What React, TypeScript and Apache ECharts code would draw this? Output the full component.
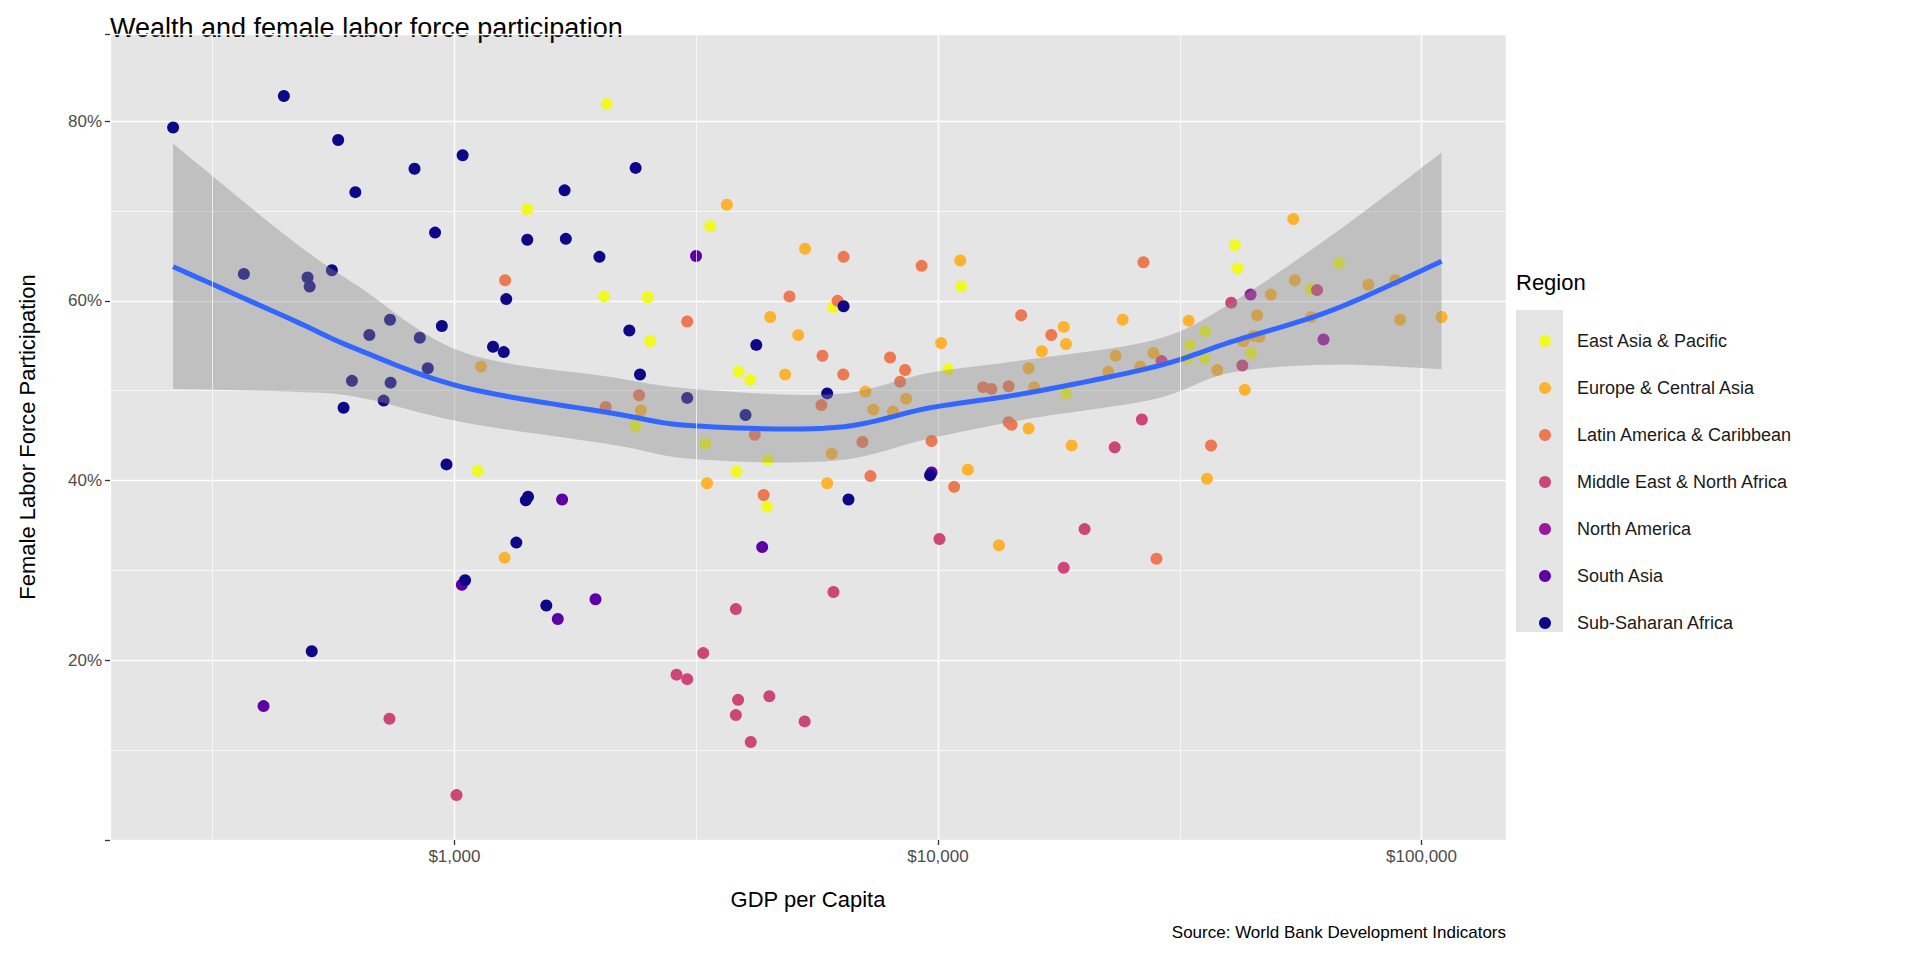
import React, { useEffect, useRef } from 'react';
import * as echarts from 'echarts';

const regions = [
  'East Asia & Pacific',
  'Europe & Central Asia',
  'Latin America & Caribbean',
  'Middle East & North Africa',
  'North America',
  'South Asia',
  'Sub-Saharan Africa',
];
const regionColors = ['#F0F921', '#FDB32F', '#ED7953', '#CC4678', '#9C179E', '#5D01A6', '#0D0887'];

// [GDP per capita, female labor force participation %]
const eastAsia = [
  [2065, 81.9], [1415, 70.2], [3380, 68.3], [2040, 60.5], [2510, 60.4], [2540, 55.5], [6080, 59.3],
  [11160, 61.6], [3870, 52.1], [4090, 51.2], [2370, 46.1], [3300, 44.1], [4450, 42.3], [1118, 41.1],
  [3830, 41.0], [4430, 37.1], [10500, 52.4], [18400, 49.7], [35700, 56.6], [33200, 55.1], [32700, 53.6],
  [35600, 53.6], [41100, 66.2], [41700, 63.6], [67500, 64.2], [59000, 61.3], [44400, 54.2],
];
const europe = [
  [3660, 70.7], [5310, 65.8], [4500, 58.2], [5140, 56.2], [1135, 52.7], [4830, 51.8], [2430, 47.8],
  [6030, 43.0], [3330, 39.7], [5900, 39.7], [1270, 31.4], [11120, 64.5], [18200, 57.1], [18400, 55.2],
  [16400, 54.4], [24100, 57.9], [33000, 57.8], [27900, 54.2], [23300, 53.9], [22500, 52.1], [26200, 52.7],
  [37800, 52.3], [15400, 52.5], [15800, 50.4], [10150, 55.3], [7080, 49.9], [7350, 47.9], [8070, 47.7],
  [8590, 49.1], [15400, 45.8], [18900, 43.9], [11530, 41.2], [36000, 40.2], [13370, 32.8], [54300, 69.1],
  [54700, 62.3], [77600, 61.8], [88300, 62.3], [48800, 60.7], [45700, 58.4], [59100, 58.2], [90300, 57.9],
  [110000, 58.2], [44900, 56.1], [46200, 56.0], [42800, 55.5], [43100, 50.1],
];
const latinAmerica = [
  [1273, 62.3], [3030, 57.7], [4930, 60.5], [5770, 53.9], [2410, 49.5], [2055, 48.2], [4180, 45.1],
  [5740, 48.4], [4360, 38.4], [6380, 64.9], [9250, 63.9], [26600, 64.3], [6200, 60.0], [14860, 58.4],
  [17150, 56.2], [14000, 50.5], [12900, 50.2], [12400, 50.4], [7960, 53.7], [8550, 52.3], [8350, 51.0],
  [6370, 51.8], [14000, 46.5], [14200, 46.2], [9700, 44.4], [6980, 44.3], [36700, 43.9], [7250, 40.5],
  [10800, 39.3], [28300, 31.3],
];
const middleEast = [
  [734, 13.5], [1010, 5.0], [3820, 25.7], [6080, 27.6], [3270, 20.8], [2880, 18.4], [3030, 17.9],
  [3860, 15.6], [4480, 16.0], [3820, 13.9], [5300, 13.2], [4100, 10.9], [10070, 33.5], [20100, 34.6],
  [18200, 30.3], [23200, 43.7], [26400, 46.8], [29000, 53.3], [40400, 59.8], [60800, 61.2], [42600, 52.8],
];
const northAmerica = [[44300, 60.7], [62700, 55.7]];
const southAsia = [
  [403, 14.9], [1036, 28.4], [1670, 37.9], [1636, 24.6], [1958, 26.8], [3160, 65.0], [4330, 32.6], [9700, 40.9],
];
const subSaharan = [
  [262, 79.3], [444, 82.8], [575, 77.9], [827, 74.7], [1040, 76.2], [624, 72.1], [912, 67.6], [367, 63.0],
  [497, 62.6], [502, 61.6], [558, 63.4], [667, 56.2], [736, 57.9], [848, 55.9], [942, 57.2], [881, 52.5],
  [614, 51.1], [738, 50.9], [714, 48.9], [590, 48.1], [963, 41.8], [507, 21.0], [2370, 74.8], [1690, 72.3],
  [1415, 66.8], [1700, 66.9], [1995, 64.9], [1280, 60.2], [2300, 56.7], [4210, 55.1], [1202, 54.9],
  [1265, 54.3], [2420, 51.8], [3030, 49.2], [4000, 47.3], [5900, 49.7], [6380, 59.4], [9630, 40.6],
  [6530, 37.9], [1420, 38.2], [1405, 37.8], [1343, 33.1], [1052, 28.9], [1549, 26.1],
];
const regionData = [eastAsia, europe, latinAmerica, middleEast, northAmerica, southAsia, subSaharan];

// loess fit and its confidence band
const smoothGdp = [262, 457, 630, 1040, 2120, 3120, 6100, 9630, 15500, 28200, 40200, 65600, 110000];
const smoothFit = [63.8, 58.0, 54.6, 50.4, 47.5, 46.1, 45.9, 48.1, 49.8, 52.7, 55.4, 59.0, 64.4];
const smoothUpper = [77.5, 66.9, 61.7, 54.3, 51.5, 50.2, 49.6, 52.0, 53.5, 55.7, 59.7, 67.4, 76.5];
const smoothLower = [50.2, 49.9, 49.3, 46.5, 44.0, 42.4, 42.2, 44.7, 46.9, 49.1, 52.0, 52.9, 52.4];

const xMinorBreaks = [316.2, 3162, 31623];

// Catmull-Rom curve through pixel points, for drawing only
function curve(pts: number[][]): number[][] {
  const out: number[][] = [];
  for (let i = 0; i < pts.length - 1; i++) {
    const p0 = pts[Math.max(i - 1, 0)];
    const p1 = pts[i];
    const p2 = pts[i + 1];
    const p3 = pts[Math.min(i + 2, pts.length - 1)];
    for (let s = 0; s < 12; s++) {
      const t = s / 12;
      const t2 = t * t;
      const t3 = t2 * t;
      out.push([0, 1].map(k =>
        0.5 * (2 * p1[k] + (-p0[k] + p2[k]) * t + (2 * p0[k] - 5 * p1[k] + 4 * p2[k] - p3[k]) * t2 +
          (-p0[k] + 3 * p1[k] - 3 * p2[k] + p3[k]) * t3)));
    }
  }
  out.push(pts[pts.length - 1]);
  return out;
}

const App: React.FC = () => {
  const chartRef = useRef<HTMLDivElement>(null);

  useEffect(() => {
    document.body.style.margin = '0';
    if (!chartRef.current) return;
    const chart = echarts.init(chartRef.current, undefined, { renderer: 'svg' });
    const font = 'Liberation Sans, Arial, sans-serif';

    const scatterSeries = regions.map((name, i) => ({
      name,
      type: 'scatter',
      data: regionData[i],
      symbolSize: 12,
      itemStyle: { color: regionColors[i], opacity: 1 },
      z: 2,
    }));

    const option = {
      animation: false,
      backgroundColor: '#ffffff',
      textStyle: { fontFamily: font },
      grid: { left: 110, top: 34, width: 1396, height: 806, show: true, backgroundColor: '#E5E5E5', borderWidth: 0 },
      xAxis: {
        type: 'log',
        logBase: 10,
        min: 194,
        max: 149500,
        axisLine: { show: false },
        axisTick: { show: true, length: 5, lineStyle: { color: '#333333', width: 1.3 } },
        axisLabel: {
          color: '#4D4D4D',
          fontSize: 17,
          margin: 8,
          showMinLabel: false,
          showMaxLabel: false,
          formatter: (v: number) => '$' + Math.round(v).toLocaleString('en-US'),
        },
        splitLine: { show: true, lineStyle: { color: '#ffffff', width: 1.4 } },
        name: 'GDP per Capita',
        nameLocation: 'middle',
        nameGap: 48,
        nameTextStyle: { color: '#000000', fontSize: 22 },
      },
      yAxis: {
        type: 'value',
        min: 0,
        max: 89.7,
        interval: 20,
        axisLine: { show: false },
        axisTick: { show: true, length: 5, lineStyle: { color: '#333333', width: 1.3 } },
        axisLabel: {
          color: '#4D4D4D',
          fontSize: 17,
          margin: 8,
          formatter: (v: number) => (v === 0 || v > 85 ? '' : v + '%'),
        },
        splitLine: { show: true, lineStyle: { color: '#ffffff', width: 1.4 } },
        minorTick: { show: false, splitNumber: 2 },
        minorSplitLine: { show: true, lineStyle: { color: '#ffffff', width: 0.7 } },
        name: 'Female Labor Force Participation',
        nameLocation: 'middle',
        nameGap: 72,
        nameTextStyle: { color: '#000000', fontSize: 22 },
      },
      legend: {
        data: regions,
        orient: 'vertical',
        left: 1534,
        top: 327,
        itemWidth: 12,
        itemHeight: 12,
        itemGap: 29,
        icon: 'circle',
        textStyle: { fontSize: 18, color: '#1A1A1A', padding: [0, 0, 0, 21] },
      },
      graphic: [
        { type: 'text', left: 110, top: 14, style: { text: 'Wealth and female labor force participation', fontSize: 27, fill: '#000000', fontFamily: font } },
        { type: 'text', left: 1516, top: 271, style: { text: 'Region', fontSize: 22, fill: '#000000', fontFamily: font } },
        { type: 'rect', left: 1516, top: 310, z: -1, shape: { width: 47, height: 322 }, style: { fill: '#E5E5E5' } },
        { type: 'text', right: 414, top: 924, style: { text: 'Source: World Bank Development Indicators', fontSize: 17, fill: '#000000', fontFamily: font, align: 'right' } },
      ],
      series: [
        {
          name: 'minor',
          type: 'scatter',
          data: [],
          z: 1,
          markLine: {
            silent: true,
            symbol: 'none',
            label: { show: false },
            lineStyle: { color: '#ffffff', width: 0.7, type: 'solid' },
            data: xMinorBreaks.map(v => ({ xAxis: v })),
          },
        },
        ...scatterSeries,
        {
          name: 'band',
          type: 'custom',
          data: [0],
          silent: true,
          z: 3,
          renderItem: (_params: any, api: any) => {
            const upper = curve(smoothGdp.map((g, i) => api.coord([g, smoothUpper[i]])));
            const lower = curve(smoothGdp.map((g, i) => api.coord([g, smoothLower[i]]))).reverse();
            return {
              type: 'polygon',
              shape: { points: upper.concat(lower) },
              style: { fill: 'rgba(137,137,137,0.4)' },
            };
          },
        },
        {
          name: 'fit',
          type: 'custom',
          data: [0],
          silent: true,
          z: 4,
          renderItem: (_params: any, api: any) => ({
            type: 'polyline',
            shape: { points: curve(smoothGdp.map((g, i) => api.coord([g, smoothFit[i]]))) },
            style: { fill: 'none', stroke: '#3366FF', lineWidth: 5 },
          }),
        },
      ],
    };

    chart.setOption(option);
    return () => chart.dispose();
  }, []);

  return <div ref={chartRef} style={{ width: 1920, height: 960 }} />;
};

export default App;
